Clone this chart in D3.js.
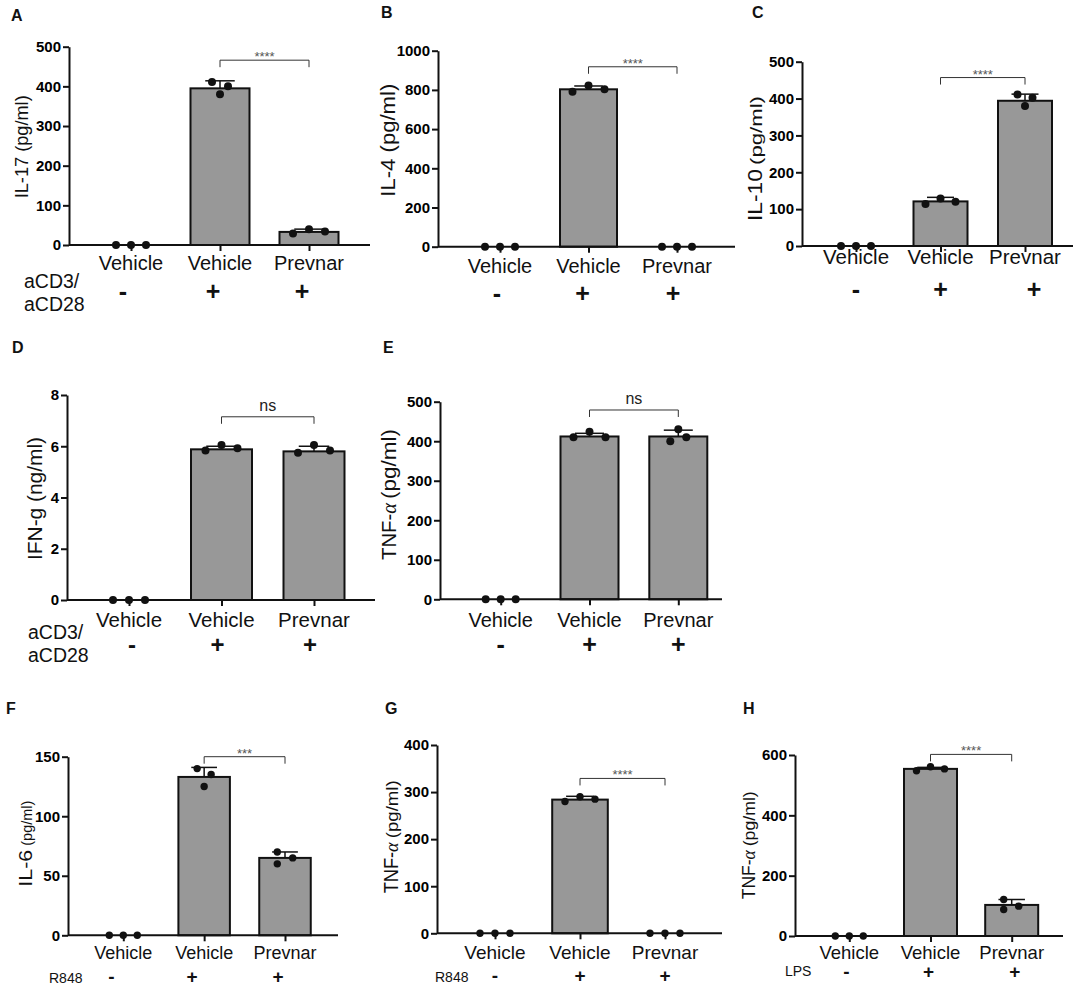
<!DOCTYPE html>
<html>
<head>
<meta charset="utf-8">
<script src="https://cdn.jsdelivr.net/npm/d3@7"></script>
<style>
body { margin: 0; background: #fff; }
svg { display: block; font-family: "Liberation Sans", Arial, sans-serif; }
.tick text { font-family: "Liberation Sans", Arial, sans-serif; font-weight: bold; font-size: 15px; fill: #000; }
</style>
</head>
<body>
<svg id="fig" width="1083" height="988"></svg>
<script>
// shared x categories
const groups = ["Vehicle", "Vehicle", "Prevnar"];
const signs = ["-", "+", "+"];

// A: IL-17, aCD3/aCD28
const il17_mean = [0, 395, 33];
const il17_sd = [0, 19, 7];
const il17_pts = [[0, 0, 0], [411, 380, 400], [29, 40, 34]];
const il17_ticks = [0, 100, 200, 300, 400, 500];

// B: IL-4, aCD3/aCD28
const il4_mean = [0, 803, 0];
const il4_sd = [0, 17, 0];
const il4_pts = [[0, 0, 0], [791, 823, 803], [0, 0, 0]];
const il4_ticks = [0, 200, 400, 600, 800, 1000];

// C: IL-10, aCD3/aCD28
const il10_mean = [0, 121, 394];
const il10_sd = [0, 11, 18];
const il10_pts = [[0, 0, 0], [114, 129, 120], [411, 380, 402]];
const il10_ticks = [0, 100, 200, 300, 400, 500];

// D: IFN-g, aCD3/aCD28
const ifng_mean = [0, 5.88, 5.8];
const ifng_sd = [0, 0.12, 0.2];
const ifng_pts = [[0, 0, 0], [5.83, 6.05, 5.92], [5.75, 6.05, 5.83]];
const ifng_ticks = [0, 2, 4, 6, 8];

// E: TNF-a, aCD3/aCD28
const tnf_t_mean = [0, 412, 412];
const tnf_t_sd = [0, 8, 16];
const tnf_t_pts = [[0, 0, 0], [410, 424, 410], [400, 430, 410]];
const tnf_t_ticks = [0, 100, 200, 300, 400, 500];

// F: IL-6, R848
const il6_mean = [0, 133, 65];
const il6_sd = [0, 8, 5];
const il6_pts = [[0, 0, 0], [140, 125, 135], [70, 65, 60]];
const il6_ticks = [0, 50, 100, 150];

// G: TNF-a, R848
const tnf_r_mean = [0, 284, 0];
const tnf_r_sd = [0, 7, 0];
const tnf_r_pts = [[0, 0, 0], [280, 290, 285], [0, 0, 0]];
const tnf_r_ticks = [0, 100, 200, 300, 400];

// H: TNF-a, LPS
const tnf_l_mean = [0, 554, 103];
const tnf_l_sd = [0, 5, 18];
const tnf_l_pts = [[0, 0, 0], [548, 561, 554], [121, 99, 88]];
const tnf_l_ticks = [0, 200, 400, 600];

// significance label and bracket level (data units)
const sig_labels = ["****", "****", "****", "ns", "ns", "***", "****", "****"];
const sig_levels = [466, 918, 457, 7.15, 479, 150, 329, 602];

// y label pieces: [text, font size, drawn length]
const panels = [
	{ tag: "A", tagXY: [11, 21], mean: il17_mean, sd: il17_sd, pts: il17_pts, ticks: il17_ticks,
		left: 69, top: 46.7, bottom: 245, c0: 131, c2: 309, right: 370, barW: 59, r: 4,
		dodge: [[-15, 0, 15], [-8, 0, 8], [-16, 0, 16]],
		ylab: [["IL-17 (pg/ml)", 18.5, 103]], ylabXY: [28, 198.3],
		labY: 270, labSize: 20, signY: 291, signDx: [-8, -7, -7], signSize: 25,
		rowLab: ["aCD3/", "aCD28"], rowLabX: 24, rowLabY: [288, 311], rowLabSize: 19.5 },
	{ tag: "B", tagXY: [381, 18], mean: il4_mean, sd: il4_sd, pts: il4_pts, ticks: il4_ticks,
		left: 438, top: 50.7, bottom: 246.7, c0: 500, c2: 677, right: 735, barW: 57, r: 4,
		dodge: [[-15, 0, 15], [-16, 0, 16], [-15, 0, 15]],
		ylab: [["IL-4 (pg/ml)", 20.5, 113]], ylabXY: [395, 196.7],
		labY: 273, labSize: 20, signY: 293, signDx: [-3, -6, -4], signSize: 25,
		rowLab: [], rowLabX: 0, rowLabY: [], rowLabSize: 19 },
	{ tag: "C", tagXY: [752, 18], mean: il10_mean, sd: il10_sd, pts: il10_pts, ticks: il10_ticks,
		left: 802, top: 61.7, bottom: 246, c0: 856, c2: 1025, right: 1073, barW: 54, r: 4,
		dodge: [[-15, 0, 15], [-15, 0, 15], [-7.5, 0, 7.5]],
		ylab: [["IL-10", 20, 52], ["(pg/ml)", 16, 69]], ylabXY: [761.5, 221],
		labY: 263.5, labSize: 20.5, signY: 289, signDx: [0, 0, 9], signSize: 25,
		rowLab: [], rowLabX: 0, rowLabY: [], rowLabSize: 19 },
	{ tag: "D", tagXY: [12, 353], mean: ifng_mean, sd: ifng_sd, pts: ifng_pts, ticks: ifng_ticks,
		left: 67, top: 395, bottom: 600, c0: 129, c2: 314, right: 375, barW: 61, r: 4,
		dodge: [[-16, 0, 16], [-16, 0, 16], [-16, 0, 16]],
		ylab: [["IFN-g (ng/ml)", 20.5, 123]], ylabXY: [41.7, 560],
		labY: 626.7, labSize: 20.5, signY: 645, signDx: [3, -4, -4], signSize: 24,
		rowLab: ["aCD3/", "aCD28"], rowLabX: 28, rowLabY: [639, 661.7], rowLabSize: 19.5 },
	{ tag: "E", tagXY: [383, 353], mean: tnf_t_mean, sd: tnf_t_sd, pts: tnf_t_pts, ticks: tnf_t_ticks,
		left: 440, top: 401.7, bottom: 599.3, c0: 500.7, c2: 678.3, right: 722, barW: 58, r: 4,
		dodge: [[-15, 0, 15], [-16, 0, 16], [-8, 0, 8]],
		ylab: [["TNF-α", 20.5, 57], ["(pg/ml)", 20.5, 70]], ylabXY: [396, 560],
		labY: 626.7, labSize: 20, signY: 644, signDx: [0, 0, 0], signSize: 25,
		rowLab: [], rowLabX: 0, rowLabY: [], rowLabSize: 19 },
	{ tag: "F", tagXY: [6, 714], mean: il6_mean, sd: il6_sd, pts: il6_pts, ticks: il6_ticks,
		left: 68, top: 756.7, bottom: 935.3, c0: 123.3, c2: 285, right: 338, barW: 51.5, r: 3.7,
		dodge: [[-14, 0, 14], [-7, 0, 7], [-7.7, 7.7, -7.7]],
		ylab: [["IL-6", 18, 37], ["(pg/ml)", 15, 45]], ylabXY: [31.7, 886.7],
		labY: 959, labSize: 18, signY: 977, signDx: [-12, -12, -7], signSize: 19,
		rowLab: ["R848"], rowLabX: 49, rowLabY: [983], rowLabSize: 14 },
	{ tag: "G", tagXY: [385, 714], mean: tnf_r_mean, sd: tnf_r_sd, pts: tnf_r_pts, ticks: tnf_r_ticks,
		left: 437, top: 745, bottom: 933.3, c0: 495, c2: 665, right: 722, barW: 55.6, r: 3.7,
		dodge: [[-15, 0, 15], [-15, 0, 15], [-15, 0, 15]],
		ylab: [["TNF-α", 19.5, 51], ["(pg/ml)", 16, 58]], ylabXY: [398.3, 893.3],
		labY: 959, labSize: 19, signY: 976, signDx: [0, 0, 0], signSize: 19,
		rowLab: ["R848"], rowLabX: 435, rowLabY: [982], rowLabSize: 14 },
	{ tag: "H", tagXY: [743, 714], mean: tnf_l_mean, sd: tnf_l_sd, pts: tnf_l_pts, ticks: tnf_l_ticks,
		left: 795, top: 755, bottom: 936, c0: 849.3, c2: 1011.7, right: 1063, barW: 53, r: 3.7,
		dodge: [[-14, 0, 14], [-14, 0, 14], [-8, 7, -8]],
		ylab: [["TNF-α", 19, 49], ["(pg/ml)", 16, 55]], ylabXY: [755, 899.3],
		labY: 959, labSize: 18.5, signY: 972, signDx: [-3, -2, 3], signSize: 19,
		rowLab: ["LPS"], rowLabX: 785, rowLabY: [976], rowLabSize: 14 }
];

const svg = d3.select("#fig");
svg.append("rect").attr("width", 1083).attr("height", 988).attr("fill", "#fff");

const ink = "#111";
const bar_fill = "#989898";

function draw_ylabel(g, p) {
	const lab = g.append("g")
		.attr("transform", "translate(" + p.ylabXY[0] + "," + p.ylabXY[1] + ") rotate(-90)");
	let cursor = 0;
	p.ylab.forEach(part => {
		const t = lab.append("text")
			.attr("x", cursor)
			.attr("font-size", part[1])
			.attr("textLength", part[2])
			.attr("lengthAdjust", "spacingAndGlyphs")
			.attr("fill", ink);
		// greek alpha in an italic serif face, like the original
		part[0].split(/(α)/).filter(s => s.length).forEach(seg => {
			const ts = t.append("tspan").text(seg);
			if (seg === "α") ts.attr("font-style", "italic").attr("font-family", "'Liberation Serif', serif");
		});
		cursor += part[2] + 4;
	});
}

function draw_panel(p, k) {
	const g = svg.append("g").attr("class", "panel-" + p.tag);
	const y = d3.scaleLinear()
		.domain([0, p.ticks[p.ticks.length - 1]])
		.range([p.bottom, p.top]);
	const x = d3.scalePoint()
		.domain([0, 1, 2])
		.range([p.c0, p.c2]);

	// panel letter
	g.append("text")
		.attr("x", p.tagXY[0]).attr("y", p.tagXY[1])
		.attr("font-size", 16).attr("font-weight", "bold").attr("fill", ink)
		.text(p.tag);

	// bars (zero means are just the dots)
	g.selectAll("rect.bar")
		.data(p.mean.map((m, i) => ({ m, i })).filter(d => d.m > 0))
		.join("rect")
		.attr("class", "bar")
		.attr("x", d => x(d.i) - p.barW / 2)
		.attr("y", d => y(d.m))
		.attr("width", p.barW)
		.attr("height", d => y(0) - y(d.m))
		.attr("fill", bar_fill)
		.attr("stroke", ink)
		.attr("stroke-width", 2);

	// error bars (upper SD only)
	const errs = p.mean.map((m, i) => ({ m, s: p.sd[i], i })).filter(d => d.s > 0);
	g.selectAll("line.err")
		.data(errs)
		.join("line")
		.attr("class", "err")
		.attr("x1", d => x(d.i)).attr("x2", d => x(d.i))
		.attr("y1", d => y(d.m)).attr("y2", d => y(d.m + d.s))
		.attr("stroke", ink).attr("stroke-width", 1.5);
	g.selectAll("line.cap")
		.data(errs)
		.join("line")
		.attr("class", "cap")
		.attr("x1", d => x(d.i) - p.barW / 4).attr("x2", d => x(d.i) + p.barW / 4)
		.attr("y1", d => y(d.m + d.s)).attr("y2", d => y(d.m + d.s))
		.attr("stroke", ink).attr("stroke-width", 1.5);

	// y axis
	const y_axis = d3.axisLeft(y)
		.tickValues(p.ticks)
		.tickFormat(d3.format(""))
		.tickSize(6).tickSizeOuter(0).tickPadding(2);
	const ya = g.append("g")
		.attr("transform", "translate(" + p.left + ",0)")
		.call(y_axis);
	ya.select(".domain").attr("stroke", ink).attr("stroke-width", 2);
	ya.selectAll(".tick line").attr("stroke", ink).attr("stroke-width", 2);

	// x axis line + ticks
	g.append("line")
		.attr("x1", p.left).attr("x2", p.right)
		.attr("y1", y(0)).attr("y2", y(0))
		.attr("stroke", ink).attr("stroke-width", 2);
	const x_axis = d3.axisBottom(x).tickSize(6).tickFormat("");
	const xa = g.append("g")
		.attr("transform", "translate(0," + y(0) + ")")
		.call(x_axis);
	xa.select(".domain").remove();
	xa.selectAll(".tick line").attr("stroke", ink).attr("stroke-width", 2);

	// dots
	p.pts.forEach((vals, i) => {
		g.selectAll("circle.g" + i)
			.data(vals)
			.join("circle")
			.attr("class", "dot g" + i)
			.attr("cx", (v, j) => x(i) + p.dodge[i][j])
			.attr("cy", v => y(v))
			.attr("r", p.r)
			.attr("fill", ink);
	});

	// significance bracket between the two stimulated groups
	const by = y(sig_levels[k]);
	const leg = 7;
	g.append("path")
		.attr("d", "M" + x(1) + "," + (by + leg) + "V" + by + "H" + x(2) + "V" + (by + leg))
		.attr("fill", "none").attr("stroke", "#333").attr("stroke-width", 1);
	const is_ns = sig_labels[k] === "ns";
	g.append("text")
		.attr("x", (x(1) + x(2)) / 2)
		.attr("y", is_ns ? by - 6 : by + 1)
		.attr("text-anchor", "middle")
		.attr("font-size", is_ns ? 16 : 13)
		.attr("fill", is_ns ? "#222" : "#555")
		.text(sig_labels[k]);

	draw_ylabel(g, p);

	// category labels
	g.selectAll("text.grp")
		.data(groups)
		.join("text")
		.attr("class", "grp")
		.attr("x", (d, i) => x(i))
		.attr("y", p.labY)
		.attr("text-anchor", "middle")
		.attr("font-size", p.labSize)
		.attr("fill", ink)
		.text(d => d);

	// +/- row
	g.selectAll("text.sign")
		.data(signs)
		.join("text")
		.attr("class", "sign")
		.attr("x", (d, i) => x(i) + p.signDx[i])
		.attr("y", p.signY + p.signSize * 0.34)
		.attr("text-anchor", "middle")
		.attr("font-size", p.signSize)
		.attr("font-weight", "bold")
		.attr("fill", ink)
		.text(d => d);

	// row label (stimulus)
	g.selectAll("text.row")
		.data(p.rowLab)
		.join("text")
		.attr("class", "row")
		.attr("x", p.rowLabX)
		.attr("y", (d, i) => p.rowLabY[i])
		.attr("font-size", p.rowLabSize)
		.attr("fill", ink)
		.text(d => d);
}

panels.forEach((p, k) => draw_panel(p, k));
</script>
</body>
</html>
